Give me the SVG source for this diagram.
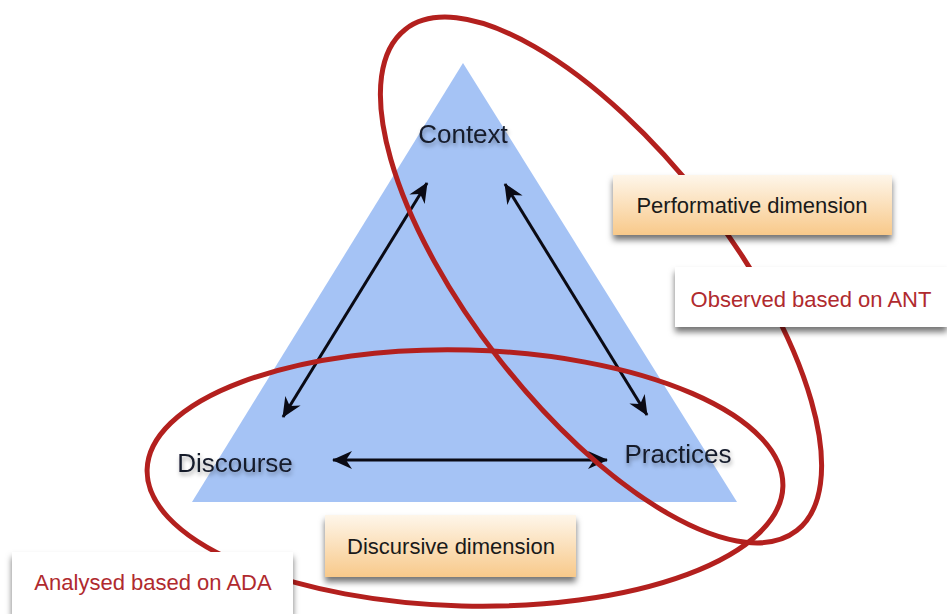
<svg xmlns="http://www.w3.org/2000/svg" width="947" height="614" viewBox="0 0 947 614">
  <defs>
    <linearGradient id="orange" x1="0" y1="0" x2="0" y2="1">
      <stop offset="0" stop-color="#fef6ea"/>
      <stop offset="1" stop-color="#f8c98a"/>
    </linearGradient>
    <filter id="boxShadow" x="-10%" y="-20%" width="120%" height="150%">
      <feDropShadow dx="0" dy="5" stdDeviation="3" flood-color="#000" flood-opacity="0.55"/>
    </filter>
    <filter id="textShadow" x="-10%" y="-30%" width="120%" height="170%">
      <feDropShadow dx="1" dy="3" stdDeviation="2" flood-color="#000" flood-opacity="0.35"/>
    </filter>
    <marker id="head" viewBox="0 0 20 18" refX="19" refY="9" markerWidth="20" markerHeight="18" markerUnits="userSpaceOnUse" orient="auto-start-reverse">
      <path d="M0,0 L20,9 L0,18 L6,9 z" fill="#0a0a14"/>
    </marker>
  </defs>
  <style>
    .label { font-family: "Liberation Sans", Arial, sans-serif; font-size: 26px; fill: #141a2a; text-anchor: middle; }
    .boxtext { font-family: "Liberation Sans", Arial, sans-serif; font-size: 22px; text-anchor: middle; }
    .dark { fill: #1a1a1a; }
    .red { fill: #b02a2e; }
    .arrow { stroke: #0a0a14; stroke-width: 3; fill: none; marker-start: url(#head); marker-end: url(#head); }
    .ring { fill: none; stroke: #b3201e; stroke-width: 5; }
  </style>

  <rect width="947" height="614" fill="#ffffff"/>

  <g id="triangle">
    <polygon points="463,63 192,502 737,502" fill="#a5c3f5"/>
  </g>

  <g id="connectors">
    <line class="arrow" x1="283" y1="417" x2="427" y2="183"/>
    <line class="arrow" x1="505" y1="184" x2="647" y2="415"/>
    <line class="arrow" x1="333" y1="460" x2="607" y2="460"/>
  </g>

  <g id="context">
    <text class="label" x="463" y="143" filter="url(#textShadow)">Context</text>
  </g>
  <g id="discourse">
    <text class="label" x="235" y="472" filter="url(#textShadow)">Discourse</text>
  </g>
  <g id="practices">
    <text class="label" x="678" y="463" filter="url(#textShadow)">Practices</text>
  </g>

  <g id="regions">
    <ellipse class="ring" cx="601" cy="280" rx="318" ry="129" transform="rotate(52 601 280)"/>
    <ellipse class="ring" cx="465" cy="478" rx="318" ry="128" transform="rotate(1.5 465 478)"/>
  </g>

  <g id="performative">
    <rect x="613" y="175" width="279" height="60" fill="url(#orange)" filter="url(#boxShadow)"/>
    <text class="boxtext dark" x="752" y="213">Performative dimension</text>
  </g>
  <g id="observed">
    <rect x="675" y="267" width="272" height="60" fill="#ffffff" filter="url(#boxShadow)"/>
    <text class="boxtext red" x="811" y="307">Observed based on ANT</text>
  </g>
  <g id="discursive">
    <rect x="325" y="515" width="251" height="62" fill="url(#orange)" filter="url(#boxShadow)"/>
    <text class="boxtext dark" x="451" y="554">Discursive dimension</text>
  </g>
  <g id="analysed">
    <rect x="12" y="552" width="281" height="62" fill="#ffffff" filter="url(#boxShadow)"/>
    <text class="boxtext red" x="153" y="590">Analysed based on ADA</text>
  </g>
</svg>
